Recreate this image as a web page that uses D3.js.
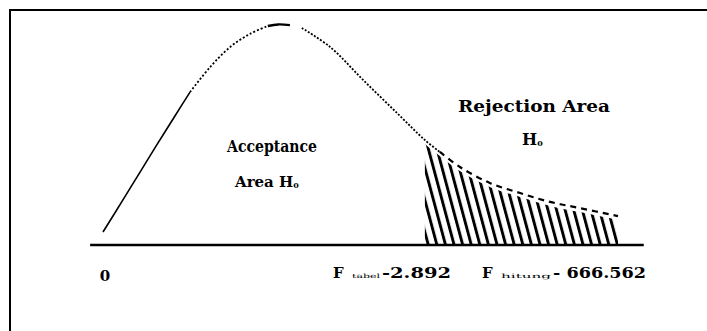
<!DOCTYPE html>
<html>
<head>
<meta charset="utf-8">
<script src="https://cdn.jsdelivr.net/npm/d3@7"></script>
<style>
  body { margin: 0; background: #fff; }
  text { font-family: "DejaVu Serif", serif; font-weight: bold; fill: #000; }
</style>
</head>
<body>
<div id="chart"></div>
<script>
// curve (x in chart units, y = relative density)
var curveX = [0, 0.39, 0.72, 1.05, 1.40, 1.69, 2.08, 2.47, 2.85, 3.20, 3.40, 3.63, 3.86, 4.41, 5.05, 5.71, 6.25, 6.54, 6.93, 7.51, 8.10, 8.68, 9.26, 10.0];
var curveY = [0.059, 0.205, 0.330, 0.455, 0.585, 0.692, 0.805, 0.896, 0.955, 0.991, 0.998, 0.995, 0.982, 0.896, 0.747, 0.597, 0.475, 0.421, 0.353, 0.281, 0.235, 0.195, 0.167, 0.131];

// critical region start (F table) and end of drawn tail
var rejectFrom = 6.25;
var rejectTo = 10.0;

var zeroLabel = "0";
var fTableLabel = { sub: "tabel", value: "-2.892" };
var fCountLabel = { sub: "hitung", value: "- 666.562" };

var svgWidth = 707;
var svgHeight = 331;

var svg = d3.select("#chart")
  .append("svg")
  .attr("width", svgWidth)
  .attr("height", svgHeight);

var data = curveX.map(function(x, i) { return { x: x, y: curveY[i] }; });

var xScale = d3.scaleLinear().domain([0, 10]).range([103, 618]);
var yScale = d3.scaleLinear().domain([0, 1]).range([245, 24]);

// frame (right and bottom sides fall outside the picture)
svg.append("rect")
  .attr("x", 10).attr("y", 10)
  .attr("width", 900).attr("height", 500)
  .attr("fill", "none")
  .attr("stroke", "#000")
  .attr("stroke-width", 2);

// hatch pattern for the rejection area
var defs = svg.append("defs");
var pat = defs.append("pattern")
  .attr("id", "hatch")
  .attr("patternUnits", "userSpaceOnUse")
  .attr("width", 8.6)
  .attr("height", 400)
  .attr("patternTransform", "skewX(15)");
pat.append("rect")
  .attr("x", 0).attr("y", 0)
  .attr("width", 3).attr("height", 400)
  .attr("fill", "#000");

var area = d3.area()
  .x(d => xScale(d.x))
  .y0(yScale(0))
  .y1(d => yScale(d.y) + 4)
  .curve(d3.curveCatmullRom);

svg.append("path")
  .datum(data.filter(d => d.x >= rejectFrom && d.x <= rejectTo))
  .attr("d", area)
  .attr("fill", "url(#hatch)");

// baseline
svg.append("line")
  .attr("x1", xScale(-0.25)).attr("x2", xScale(10.5))
  .attr("y1", yScale(0)).attr("y2", yScale(0))
  .attr("stroke", "#000")
  .attr("stroke-width", 2.5);

// the curve is drawn in pieces: solid, dotted, peak dash, dotted, dashed
var line = d3.line()
  .x(d => xScale(d.x))
  .y(d => yScale(d.y))
  .curve(d3.curveCatmullRom);

var pieces = [
  { from: 0, to: 1.69, dash: null, w: 1.6 },
  { from: 1.69, to: 3.20, dash: "2,2", w: 1.8 },
  { from: 3.20, to: 3.63, dash: null, w: 2.4 },
  { from: 3.86, to: 6.54, dash: "2,1.6", w: 1.8 },
  { from: 6.54, to: 10.0, dash: "6,5", w: 2.2 }
];

pieces.forEach(function(p) {
  svg.append("path")
    .datum(data.filter(d => d.x >= p.from && d.x <= p.to))
    .attr("d", line)
    .attr("fill", "none")
    .attr("stroke", "#000")
    .attr("stroke-width", p.w)
    .attr("stroke-dasharray", p.dash);
});

// area labels
svg.append("text")
  .attr("x", 227).attr("y", 152)
  .attr("font-size", 16)
  .attr("textLength", 90).attr("lengthAdjust", "spacingAndGlyphs")
  .text("Acceptance");
var acc2 = svg.append("text").attr("font-size", 15).attr("y", 187);
acc2.append("tspan").attr("x", 235).text("Area H");
acc2.append("tspan").attr("font-size", 8).attr("dy", 1).text("0");

svg.append("text")
  .attr("x", 458).attr("y", 112)
  .attr("font-size", 16)
  .attr("textLength", 152).attr("lengthAdjust", "spacingAndGlyphs")
  .text("Rejection Area");
var rej2 = svg.append("text").attr("font-size", 16).attr("y", 145);
rej2.append("tspan").attr("x", 522).text("H");
rej2.append("tspan").attr("font-size", 8).attr("dy", 1).text("0");

// bottom labels
svg.append("text")
  .attr("x", xScale(0) + 2).attr("y", 281)
  .attr("text-anchor", "middle")
  .attr("font-size", 15)
  .text(zeroLabel);

function fLabel(x0, subW, lab, valW) {
  var t = svg.append("text").attr("y", 278).attr("font-size", 15);
  t.append("tspan").attr("x", x0).text("F");
  t.append("tspan").attr("x", x0 + 19).attr("font-size", 6).attr("font-weight", "normal")
    .attr("textLength", subW).attr("lengthAdjust", "spacingAndGlyphs").text(lab.sub);
  t.append("tspan").attr("x", x0 + 21 + subW).attr("textLength", valW)
    .attr("lengthAdjust", "spacingAndGlyphs").text(lab.value);
}
fLabel(333, 28, fTableLabel, 69);
fLabel(482, 50, fCountLabel, 93);
</script>
</body>
</html>
